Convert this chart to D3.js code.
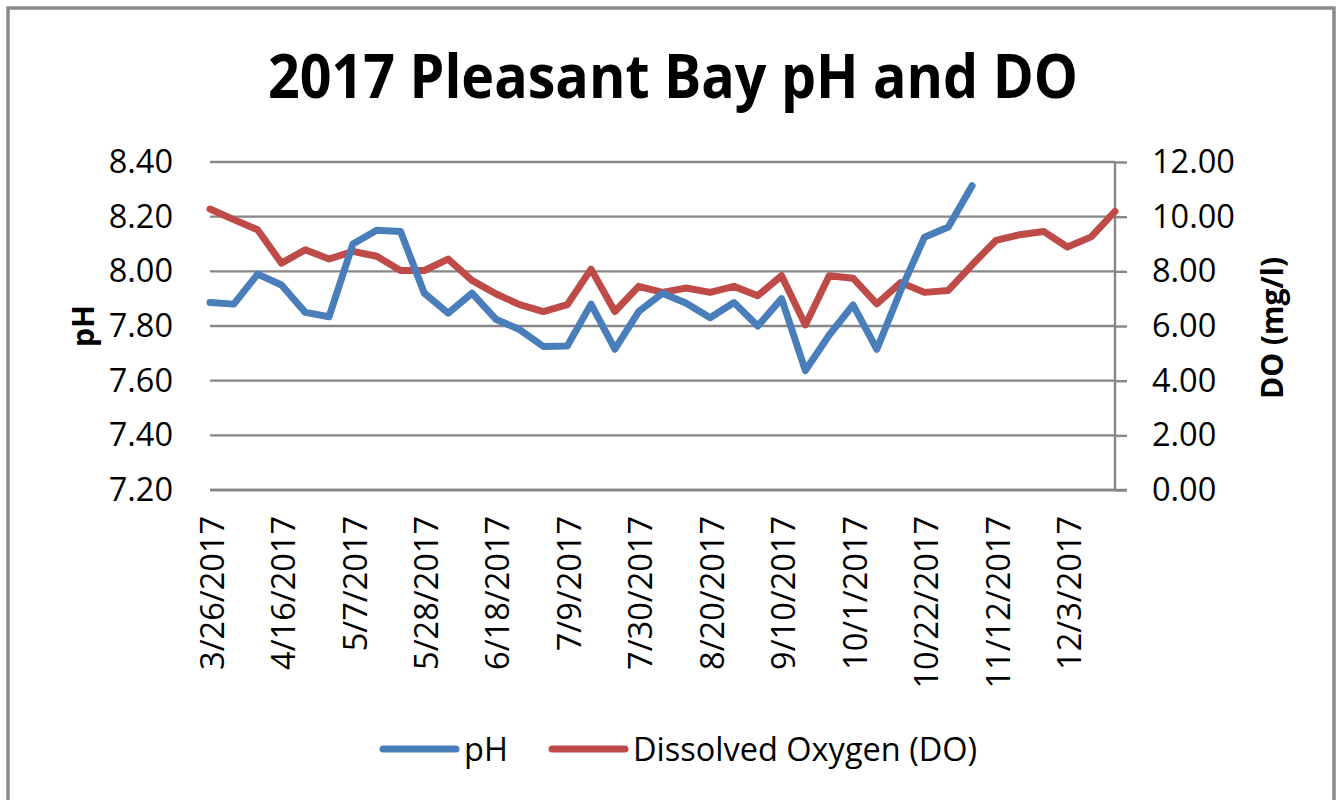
<!DOCTYPE html>
<html>
<head>
<meta charset="utf-8">
<script src="https://cdn.jsdelivr.net/npm/d3@7"></script>
<style>
  html, body { margin: 0; padding: 0; background: #fff; }
  svg { display: block; }
  text { font-family: "Open Sans", "Noto Sans", sans-serif; fill: #000; }
</style>
</head>
<body>
<svg id="chart" width="1336" height="800"></svg>
<script>
// ---- data ----
const dates = ["3/26/2017","4/2/2017","4/9/2017","4/16/2017","4/23/2017","4/30/2017","5/7/2017","5/14/2017","5/21/2017","5/28/2017",
  "6/4/2017","6/11/2017","6/18/2017","6/25/2017","7/2/2017","7/9/2017","7/16/2017","7/23/2017","7/30/2017","8/6/2017",
  "8/13/2017","8/20/2017","8/27/2017","9/3/2017","9/10/2017","9/17/2017","9/24/2017","10/1/2017","10/8/2017","10/15/2017",
  "10/22/2017","10/29/2017","11/5/2017","11/12/2017","11/19/2017","11/26/2017","12/3/2017","12/10/2017","12/17/2017"];
const phValues = [7.886, 7.88, 7.99, 7.95, 7.85, 7.834, 8.10, 8.15, 8.146, 7.92, 7.847, 7.92, 7.825, 7.787, 7.725, 7.727,
  7.88, 7.715, 7.853, 7.92, 7.883, 7.83, 7.886, 7.80, 7.90, 7.637, 7.767, 7.877, 7.715, 7.93, 8.125, 8.162, 8.313];
const doValues = [10.28, 9.89, 9.52, 8.30, 8.79, 8.45, 8.73, 8.55, 8.03, 8.03, 8.45, 7.67, 7.18, 6.78, 6.53, 6.78, 8.08,
  6.53, 7.45, 7.23, 7.39, 7.23, 7.45, 7.11, 7.84, 6.04, 7.84, 7.75, 6.81, 7.59, 7.23, 7.30, 8.24, 9.13, 9.34, 9.46, 8.89, 9.26, 10.19];
const xTickLabels = ["3/26/2017","4/16/2017","5/7/2017","5/28/2017","6/18/2017","7/9/2017","7/30/2017","8/20/2017",
  "9/10/2017","10/1/2017","10/22/2017","11/12/2017","12/3/2017"];
const phTicks = [7.20, 7.40, 7.60, 7.80, 8.00, 8.20, 8.40];
const doTicks = [0, 2, 4, 6, 8, 10, 12];
const seriesNames = ["pH", "Dissolved Oxygen (DO)"];
const titleText = "2017 Pleasant Bay pH and DO";

(function () {
// ---- setup ----
const parse = d3.timeParse("%m/%d/%Y");
const fmt = d3.timeFormat("%-m/%-d/%Y");
const dateObjs = dates.map(parse);
const svg = d3.select("#chart");
const pLeft = 210, pRight = 1115, pTop = 162, pBottom = 490;
const gridColor = "#878787";
const phColor = "#4A7EBB", doColor = "#BE4B48";

const x = d3.scaleTime().domain([dateObjs[0], dateObjs[dateObjs.length - 1]]).range([pLeft, pRight]);
const yPH = d3.scaleLinear().domain([7.2, 8.4]).range([pBottom, pTop]);
const yDO = d3.scaleLinear().domain([0, 12]).range([pBottom, pTop]);

// frame
svg.append("rect").attr("x", 8).attr("y", 8).attr("width", 1326).attr("height", 820)
  .attr("fill", "#fff").attr("stroke", "#8a8a8a").attr("stroke-width", 3.5);

// title
svg.append("text").attr("x", 673).attr("y", 98).attr("text-anchor", "middle")
  .attr("font-weight", "bold").attr("font-size", 60)
  .attr("textLength", 810).attr("lengthAdjust", "spacingAndGlyphs")
  .text(titleText);

// gridlines
svg.append("g").selectAll("line").data(phTicks).join("line")
  .attr("x1", pLeft).attr("x2", pRight)
  .attr("y1", d => yPH(d)).attr("y2", d => yPH(d))
  .attr("stroke", gridColor).attr("stroke-width", 2.4);

// left axis
const gL = svg.append("g").attr("transform", `translate(${pLeft},0)`)
  .call(d3.axisLeft(yPH).tickValues(phTicks).tickFormat(d3.format(".2f")).tickSize(0).tickPadding(37));
gL.select(".domain").remove();
gL.selectAll("text").attr("font-size", 32.5).attr("font-family", "'Open Sans', sans-serif").attr("fill", "#000");

// right axis
const gR = svg.append("g").attr("transform", `translate(${pRight},0)`)
  .call(d3.axisRight(yDO).tickValues(doTicks).tickFormat(d3.format(".2f")).tickSize(12).tickPadding(25));
gR.select(".domain").attr("stroke", gridColor).attr("stroke-width", 2.4).attr("d", `M0,${pTop}V${pBottom}`);
gR.selectAll(".tick line").attr("stroke", gridColor).attr("stroke-width", 2.4);
gR.selectAll("text").attr("font-size", 32.5).attr("font-family", "'Open Sans', sans-serif").attr("fill", "#000");

// bottom axis
const gB = svg.append("g").attr("transform", `translate(0,${pBottom})`)
  .call(d3.axisBottom(x).tickValues(xTickLabels.map(parse)).tickFormat(fmt).tickSize(0));
gB.select(".domain").attr("stroke", gridColor).attr("stroke-width", 2.4).attr("d", `M${pLeft},0H${pRight + 12}`);
gB.selectAll("text")
  .attr("font-size", 32.5).attr("font-family", "'Open Sans', sans-serif").attr("fill", "#000")
  .attr("text-anchor", "end").attr("transform", "rotate(-90)")
  .attr("x", -26).attr("y", 1.5).attr("dy", "0.36em");

// axis titles
svg.append("text").attr("transform", "translate(83,326) rotate(-90)")
  .attr("text-anchor", "middle").attr("dy", "0.36em")
  .attr("font-weight", "bold").attr("font-size", 30).text("pH");
svg.append("text").attr("transform", "translate(1272,328) rotate(-90)")
  .attr("text-anchor", "middle").attr("dy", "0.36em")
  .attr("font-weight", "bold").attr("font-size", 30).text("DO (mg/l)");

// lines
const linePH = d3.line().x((d, i) => x(dateObjs[i])).y(d => yPH(d));
const lineDO = d3.line().x((d, i) => x(dateObjs[i])).y(d => yDO(d));
svg.append("path").datum(doValues).attr("d", lineDO)
  .attr("fill", "none").attr("stroke", doColor).attr("stroke-width", 7)
  .attr("stroke-linejoin", "round").attr("stroke-linecap", "round");
svg.append("path").datum(phValues).attr("d", linePH)
  .attr("fill", "none").attr("stroke", phColor).attr("stroke-width", 7)
  .attr("stroke-linejoin", "round").attr("stroke-linecap", "round");

// legend
const legendY = 749;
const legendItems = [
  { name: seriesNames[0], color: phColor, x0: 383, x1: 456, tx: 464 },
  { name: seriesNames[1], color: doColor, x0: 552, x1: 625, tx: 633 }
];
const lg = svg.append("g");
legendItems.forEach(it => {
  lg.append("line").attr("x1", it.x0).attr("x2", it.x1).attr("y1", legendY).attr("y2", legendY)
    .attr("stroke", it.color).attr("stroke-width", 7).attr("stroke-linecap", "round");
  lg.append("text").attr("x", it.tx).attr("y", legendY).attr("dy", "0.36em")
    .attr("font-size", 32.5).text(it.name);
});
})();
</script>
</body>
</html>
